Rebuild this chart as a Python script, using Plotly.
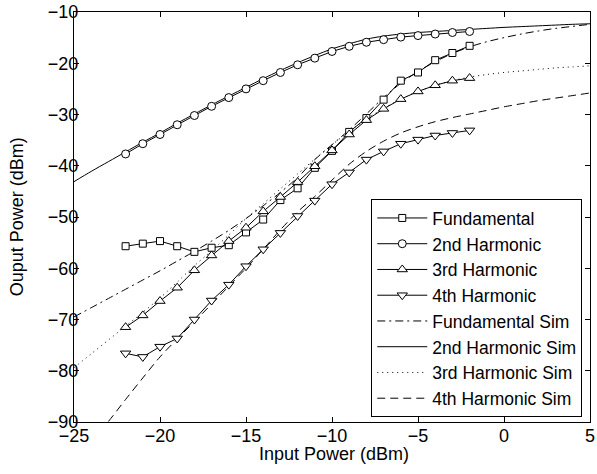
import plotly.graph_objects as go

# ---------------- data ----------------
meas_x = [-22, -21, -20, -19, -18, -17, -16, -15, -14, -13, -12, -11, -10, -9, -8, -7, -6, -5, -4, -3, -2]
fundamental = [-55.7, -55.2, -54.7, -55.7, -56.8, -56.0, -55.5, -53.0, -50.5, -46.7, -44.4, -40.4, -37.1,
               -33.4, -30.7, -27.1, -23.4, -21.8, -19.4, -18.0, -16.6]
harm2 = [-37.7, -35.7, -33.9, -32.0, -30.2, -28.4, -26.7, -25.0, -23.4, -21.8, -20.3, -19.0, -17.7,
         -16.7, -15.9, -15.4, -14.9, -14.6, -14.3, -14.0, -13.8]
harm3 = [-71.5, -69.2, -66.4, -63.8, -60.4, -57.5, -54.7, -52.1, -48.9, -46.1, -43.2, -40.1, -37.0,
         -33.9, -31.1, -28.9, -27.0, -25.5, -24.3, -23.4, -22.9]
harm4 = [-76.6, -77.3, -75.3, -73.7, -70.0, -66.3, -63.2, -59.6, -56.3, -53.1, -49.8, -46.8, -43.6,
         -41.3, -38.8, -37.2, -35.7, -34.9, -34.1, -33.6, -33.1]

sim_x = [-25, -24, -23, -22, -21, -20, -19, -18, -17, -16, -15, -14, -13, -12, -11, -10,
         -9, -8, -7, -6, -5, -4, -3, -2, -1, 0, 1, 2, 3, 4, 5]
fund_sim = [-69.5, -67.7, -65.9, -64.1, -62.3, -60.5, -58.6, -56.7, -54.7, -52.6, -50.3, -47.8, -45.2,
            -42.3, -38.8, -35.9, -33.0, -29.9, -26.7, -23.9, -21.6, -19.7, -18.1, -16.8, -15.8,
            -15.0, -14.3, -13.7, -13.2, -12.8, -12.4]
harm2_sim = [-43.1, -41.1, -39.2, -37.3, -35.4, -33.6, -31.7, -29.9, -28.1, -26.4, -24.7, -23.0, -21.4,
             -19.9, -18.5, -17.2, -16.2, -15.3, -14.7, -14.3, -14.0, -13.8, -13.6, -13.4, -13.2,
             -13.0, -12.85, -12.7, -12.55, -12.4, -12.3]
harm3_sim = [-79.4, -76.7, -74.0, -71.3, -68.6, -65.8, -62.7, -59.5, -56.6, -53.5, -50.3, -47.4, -44.5,
             -41.6, -38.7, -35.9, -33.3, -30.9, -28.8, -27.0, -25.5, -24.3, -23.4, -22.7, -22.2,
             -21.8, -21.5, -21.2, -20.9, -20.7, -20.5]
harm4_sim = [-97.5, -93.8, -89.9, -85.6, -81.4, -77.3, -73.8, -70.4, -67.0, -63.5, -60.0, -56.3, -52.5,
             -49.0, -46.0, -42.8, -39.7, -37.2, -35.2, -33.6, -32.4, -31.4, -30.6, -29.9, -29.2,
             -28.5, -27.9, -27.3, -26.8, -26.3, -25.8]

x_ticks = [-25, -20, -15, -10, -5, 0, 5]
y_ticks = [-90, -80, -70, -60, -50, -40, -30, -20, -10]
x_title = "Input Power (dBm)"
y_title = "Ouput Power (dBm)"

FONT = "Liberation Sans, Arial, Helvetica, sans-serif"
FS = 18

fig = go.Figure()

# simulated curves (drawn underneath)
sims = [
    ("Fundamental Sim", fund_sim, "8px,4px,2px,4px", 5),
    ("2nd Harmonic Sim", harm2_sim, "solid", 6),
    ("3rd Harmonic Sim", harm3_sim, "1px,4px", 7),
    ("4th Harmonic Sim", harm4_sim, "8px,5px", 8),
]
for name, vals, dash, rank in sims:
    fig.add_trace(go.Scatter(
        x=sim_x, y=vals, name=name, mode="lines", legendrank=rank,
        line=dict(color="black", width=1, dash=dash, shape="spline", smoothing=0.8),
    ))

meas = [
    ("Fundamental", fundamental, "square", 7, 1),
    ("2nd Harmonic", harm2, "circle", 8, 2),
    ("3rd Harmonic", harm3, "triangle-up", 9, 3),
    ("4th Harmonic", harm4, "triangle-down", 9, 4),
]
for name, vals, sym, size, rank in meas:
    fig.add_trace(go.Scatter(
        x=meas_x, y=vals, name=name, mode="lines+markers", legendrank=rank,
        line=dict(color="black", width=1),
        marker=dict(symbol=sym, size=size, color="white", line=dict(color="black", width=1)),
    ))

axis_common = dict(
    showline=True, linecolor="black", linewidth=1, mirror="ticks",
    ticks="inside", ticklen=5, tickwidth=1, tickcolor="black",
    showgrid=False, zeroline=False, ticklabeloverflow="allow", automargin=False,
    tickfont=dict(family=FONT, size=FS, color="black"),
)

fig.update_layout(
    width=597, height=474,
    paper_bgcolor="white", plot_bgcolor="white",
    margin=dict(l=74, r=7, t=12, b=52),
    font=dict(family=FONT, size=FS, color="black"),
    xaxis=dict(range=[-25, 5], tickvals=x_ticks, ticklabelstandoff=-3, **axis_common),
    yaxis=dict(range=[-90, -10], tickvals=y_ticks, ticklabelstandoff=-9, **axis_common),
    showlegend=True,
    legend=dict(
        x=0.985, y=0.012, xanchor="right", yanchor="bottom",
        bgcolor="white", bordercolor="black", borderwidth=1,
        font=dict(family=FONT, size=17.5, color="black"),
        itemwidth=50, tracegroupgap=0,
    ),
    annotations=[
        dict(text=x_title, xref="paper", yref="paper", x=0.503, y=-0.077,
             xanchor="center", yanchor="middle", showarrow=False,
             font=dict(family=FONT, size=FS, color="black")),
        dict(text=y_title, xref="paper", yref="paper", x=-0.11, y=0.5,
             xanchor="center", yanchor="middle", showarrow=False, textangle=-90,
             font=dict(family=FONT, size=FS, color="black")),
    ],
)

fig.write_html("out.html", config={"displayModeBar": False},
               post_script="document.body.style.margin='0px';")
